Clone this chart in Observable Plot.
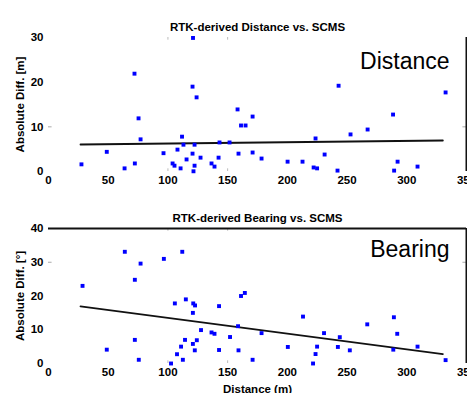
<!DOCTYPE html>
<html><head><meta charset="utf-8">
<script src="https://cdn.jsdelivr.net/npm/d3@7"></script>
<script src="https://cdn.jsdelivr.net/npm/@observablehq/plot@0.6"></script>
<style>
html,body{margin:0;padding:0;background:#fff;}
#wrap{position:relative;width:467px;height:393px;overflow:hidden;font-family:"Liberation Sans",Arial,sans-serif;}
#wrap svg{position:absolute;left:0;}
</style></head><body><div id="wrap"></div>
<script>
// ---- data ----
const distX = [27.6,48.8,63.7,72.0,72.3,75.4,77.1,96.3,103.9,105.5,108,110.6,111.8,113,115.6,120.6,121,120.6,122.3,122.3,121.4,124,127.3,136.5,139,142.4,143.2,151.6,158.3,159.1,161.2,165,170.9,170.9,178.4,200.2,212.7,222,224.9,223.6,231.2,242,242.9,252.9,267.2,288.5,289.4,292.3,309,332.5];
const distDiff = [1.6,4.4,0.7,21.9,1.8,11.9,7.2,4.1,1.8,1.3,4.9,0.7,7.8,6.0,2.7,4.0,29.9,19.0,6.0,1.3,0.05,16.6,3.1,1.8,1.1,3.1,6.5,6.5,13.9,4.0,10.3,10.3,12.3,4.25,2.9,2.2,2.2,0.9,0.7,7.4,3.8,0.2,19.2,8.3,9.4,12.75,0.2,2.2,1.1,17.7];
const bearX = [63.9,77.1,72.3,28.5,72.3,48.8,75.6,112,96.6,105.8,115,121.2,122.7,120.9,142.8,161.2,164.4,127.7,136.5,139,158.7,152,114.3,124.2,111,120.9,122.5,107.6,112.5,102.6,142.8,159.1,170.9,178.4,200.4,213.1,230.7,224.9,223.6,221.5,242.3,243.9,252.3,266.9,289.2,292,288.7,309,332.5];
const bearDiff = [33.1,29.6,24.8,23.0,7.0,4.1,1.1,33.1,31.0,17.8,19.0,17.8,17.2,15.0,17.0,20.0,20.9,9.9,9.2,8.8,11.05,7.85,7.0,6.9,5.0,5.8,3.9,2.75,1.1,0.0,4.0,3.9,1.1,9.0,4.9,13.9,9.0,5.0,2.8,0.0,4.9,7.8,3.9,11.6,13.7,8.8,4.1,5.0,1.0];
const distFitX = [26.8, 330.2];
const distFitY = [6.04, 6.94];
const bearFitX = [26.8, 330.2];
const bearFitY = [16.9, 2.8];
const xTicks = [0,50,100,150,200,250,300,350];
const distYTicks = [0,10,20,30];
const bearYTicks = [0,10,20,30,40];
const titles = ["RTK-derived Distance vs. SCMS", "RTK-derived Bearing vs. SCMS"];
const panelLabels = ["Distance", "Bearing"];
const yLabels = ["Absolute Diff. [m]", "Absolute Diff. [\u00b0]"];
const xLabel = "Distance (m)";
const faintX = [100, 150];

const FONT = '"Liberation Sans", Arial, sans-serif';
const BLUE = "#0000ff";

function panel({xs, ys, fitX, fitY, yDomain, yTicks, title, tag, yLabel, xLab, height, mTop, mBottom, tagDy, faintY, box}) {
  const pts = xs.map((x, i) => ({x, y: ys[i]}));
  const fit = fitX.map((x, i) => ({x, y: fitY[i]}));
  const marks = [
    Plot.axisX(xTicks, {tickSize: 0, tickPadding: 4, label: xLab, labelAnchor: "center", labelOffset: 29, labelArrow: "none"}),
    Plot.axisY(yTicks, {tickSize: 0, tickPadding: 5, label: yLabel, labelAnchor: "center", labelOffset: 33, labelArrow: "none"}),
    // faint tick marks
    Plot.ruleX(faintX, {y1: yDomain[1], y2: yDomain[1] - (yDomain[1]-yDomain[0])*0.02, stroke: "#bbb"}),
    Plot.ruleX(faintX, {y1: yDomain[0], y2: yDomain[0] + (yDomain[1]-yDomain[0])*0.02, stroke: "#bbb"}),
    Plot.ruleY([faintY], {x1: 0, x2: 3, stroke: "#aaa"}),
    Plot.ruleY([faintY], {x1: 350, x2: 347, stroke: "#aaa"}),
    // box edges
    Plot.ruleX([xTicks[xTicks.length-1]], {stroke: "#111", strokeWidth: 2}),
    ...(box ? [Plot.ruleY([yDomain[1]], {stroke: "#111", strokeWidth: 2})] : []),
    Plot.line(fit, {x: "x", y: "y", stroke: "#111", strokeWidth: 1.8}),
    Plot.dot(pts, {x: "x", y: "y", symbol: "square", r: 2.2, fill: BLUE, stroke: "none"}),
    Plot.text([title], {text: d => d, frameAnchor: "top", dy: -15, fontSize: 11.5, fontWeight: "bold"}),
    Plot.text([tag], {text: d => d, frameAnchor: "top-right", dx: -17, dy: tagDy, textAnchor: "end", fontSize: 23, fontWeight: "normal", lineAnchor: "middle"})
  ];
  return Plot.plot({
    width: 467, height,
    marginLeft: 48, marginRight: 1, marginTop: mTop, marginBottom: mBottom,
    x: {domain: [0, 350]},
    y: {domain: yDomain},
    style: {fontFamily: FONT, fontSize: "11.5px", fontWeight: "bold", color: "#000", background: "#fff", overflow: "visible"},
    marks
  });
}

const wrap = document.getElementById("wrap");
const top1 = panel({xs: distX, ys: distDiff, fitX: distFitX, fitY: distFitY, yDomain: [0, 30], yTicks: distYTicks,
  title: titles[0], tag: panelLabels[0], yLabel: yLabels[0], xLab: null, height: 196, mTop: 37, mBottom: 25, tagDy: 24, faintY: 10, box: false});
top1.style.top = "0px";
wrap.appendChild(top1);
const bot = panel({xs: bearX, ys: bearDiff, fitX: bearFitX, fitY: bearFitY, yDomain: [0, 40], yTicks: bearYTicks,
  title: titles[1], tag: panelLabels[1], yLabel: yLabels[1], xLab: xLabel, height: 197, mTop: 32, mBottom: 30, tagDy: 21.5, faintY: 30, box: true});
bot.style.top = "196px";
wrap.appendChild(bot);
</script>
</body></html>
